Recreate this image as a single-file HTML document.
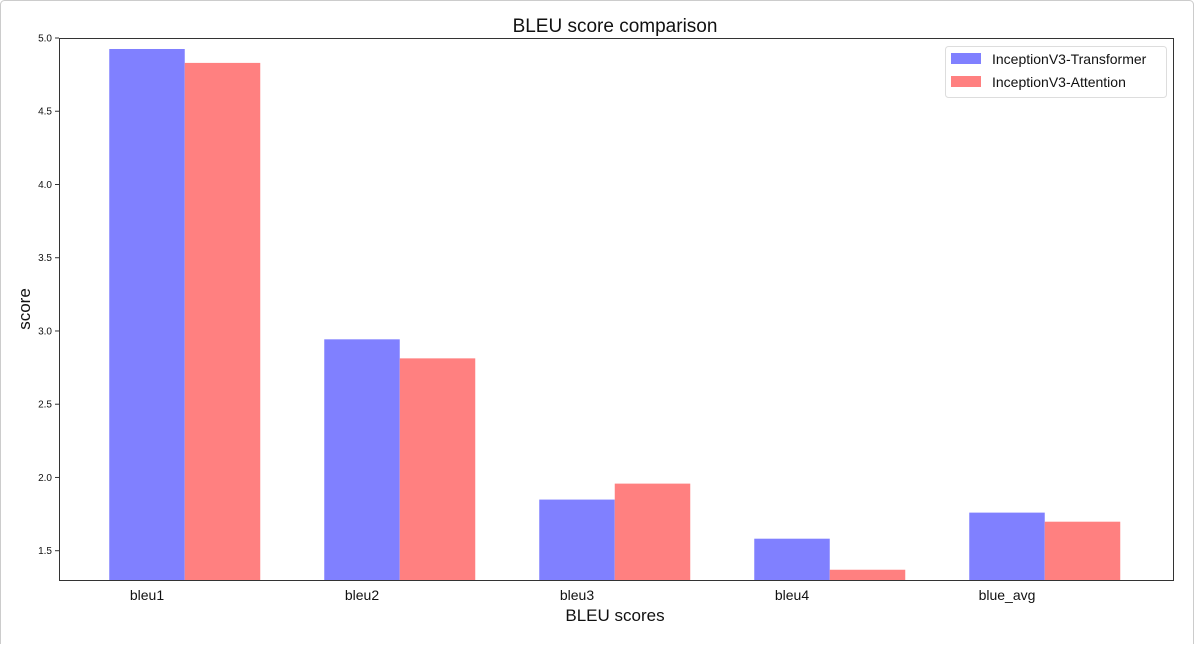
<!DOCTYPE html>
<html><head><meta charset="utf-8"><style>
body{margin:0;background:#fff;}
svg text{font-family:"Liberation Sans",sans-serif;fill:#111;}
</style></head><body>
<svg id="chart" width="1194" height="644" xmlns="http://www.w3.org/2000/svg">
<rect x="0.5" y="0.5" width="1193" height="660" rx="4" fill="none" stroke="#ccc"/>
<text x="615" y="32" font-size="19" text-anchor="middle">BLEU score comparison</text>
<g id="plot"></g>
<text x="615" y="621" font-size="17" text-anchor="middle">BLEU scores</text>
<text x="30" y="309" font-size="17" text-anchor="middle" transform="rotate(-90 30 309)">score</text>
<g>
<rect x="945.5" y="46.5" width="221" height="51" rx="3" fill="#fff" stroke="#ddd"/>
<rect x="951" y="53" width="30" height="11" fill="#8080ff"/>
<text x="992" y="64" font-size="14">InceptionV3-Transformer</text>
<rect x="951" y="76" width="30" height="11" fill="#ff8080"/>
<text x="992" y="87" font-size="14">InceptionV3-Attention</text>
</g>
</svg>
<script>
const categories=["bleu1","bleu2","bleu3","bleu4","blue_avg"];
const transformer=[4.925,2.943,1.849,1.582,1.76];
const attention=[4.83,2.813,1.958,1.37,1.698];
const yTicks=[1.5,2.0,2.5,3.0,3.5,4.0,4.5,5.0];
const L=59,R=1173,T=38,B=580,yMin=1.3,yMax=5.0;
const y=v=>T+(yMax-v)/(yMax-yMin)*(B-T);
const x=i=>147+215*i;
const bw=75.5;
const ns="http://www.w3.org/2000/svg";
const g=document.getElementById("plot");
function mk(t,a){const e=document.createElementNS(ns,t);for(const k in a)e.setAttribute(k,a[k]);g.appendChild(e);return e;}
categories.forEach((c,i)=>{
 let b=mk("rect",{x:x(i)-bw/2,y:y(transformer[i]),width:bw,height:B-y(transformer[i]),fill:"#8080ff"});
 
 
 let r=mk("rect",{x:x(i)+bw/2,y:y(attention[i]),width:bw,height:B-y(attention[i]),fill:"#ff8080"});
 
 
 let t=mk("text",{x:x(i),y:600,"font-size":14,"text-anchor":"middle"});t.textContent=c;
 
 
});
yTicks.forEach(v=>{
 mk("line",{x1:L-4,x2:L,y1:y(v),y2:y(v),stroke:"#333"});
 let t=mk("text",{x:L-7,y:y(v)+3.5,"font-size":10,"text-anchor":"end"});t.textContent=v.toFixed(1);
 
 
});
let ax=mk("rect",{x:L+0.5,y:T+0.5,width:R-L,height:B-T,fill:"none",stroke:"#333"});


</script>
</body></html>
